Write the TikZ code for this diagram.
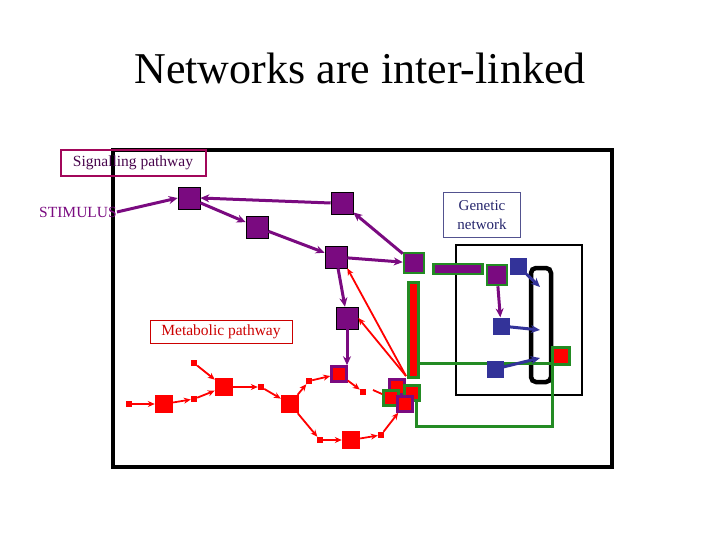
\documentclass[tikz,border=0pt]{standalone}
\usepackage{fontspec}
\setmainfont{Liberation Serif}
\usetikzlibrary{arrows.meta}
\definecolor{pur}{HTML}{7A0A80}
\definecolor{blu}{HTML}{333399}
\definecolor{grn}{HTML}{238B23}
\definecolor{rd}{HTML}{FF0000}
\begin{document}
\begin{tikzpicture}[x=1pt,y=-1pt,
 psq/.style={draw=black,fill=pur,minimum size=22pt,inner sep=0pt,line width=0.6pt},
 gpsq/.style={draw=grn,fill=pur,minimum size=20pt,inner sep=0pt,line width=2.5pt},
 bsq/.style={fill=blu,minimum size=17pt,inner sep=0pt},
 rbig/.style={fill=rd,minimum size=18pt,inner sep=0pt},
 rsm/.style={fill=rd,minimum size=6pt,inner sep=0pt},
 prsq/.style={draw=pur,fill=rd,minimum size=15pt,inner sep=0pt,line width=2.5pt},
 grsq/.style={draw=grn,fill=rd,minimum size=15pt,inner sep=0pt,line width=2.5pt},
 pa/.style={pur,line width=3pt,-{Stealth[length=9pt,width=8pt]}},
 ba/.style={blu,line width=3pt,-{Stealth[length=9pt,width=8pt]}},
 ra/.style={rd,line width=1.8pt,-{Stealth[length=7pt,width=6pt]}},
 lbl/.style={font=\fontsize{15.5}{17}\selectfont,inner sep=2pt}]
\useasboundingbox (0,0) rectangle (720,540);
\node at (360,68) {\fontsize{44}{48}\selectfont Networks are inter-linked};
\draw[line width=4pt] (113,150) rectangle (612,467);
\draw[line width=2pt] (456,245) rectangle (582,395);
\draw[line width=4.5pt,rounded corners=5pt] (531,268) rectangle (551,382);
% labels
\node[lbl,draw=pur!70!rd,line width=2pt,text=pur!60!black,minimum width=145pt,minimum height=26pt] (sig) at (133,163) {Signalling pathway};
\node[lbl,text=pur,inner sep=0pt] (stim) at (78,212) {STIMULUS};
\node[lbl,draw=blu!60!gray,line width=1pt,text=blu!70!black,align=center,font=\fontsize{15}{19}\selectfont,minimum width=77pt,minimum height=44pt] (gen) at (482,215) {Genetic\\network};
\node[lbl,draw=rd!80!black,line width=1pt,text=rd!80!black,minimum height=23pt,minimum width=142pt] (met) at (221,332) {Metabolic pathway};
% green wiring
\node[draw=grn,fill=rd,line width=3pt,minimum width=10pt,minimum height=95pt,inner sep=0pt] (bar) at (413,330) {};
\draw[grn,line width=3pt] (bar.east |- 0,363) -- (553,363);
\draw[grn,line width=3pt] (552,365) -- (552,426) -- (416,426) -- (416,400);
% purple
\node[psq] (A) at (189,198) {};
\node[psq] (B) at (342,203) {};
\node[psq] (C) at (257,227) {};
\node[psq] (D) at (336,257) {};
\node[psq] (E) at (347,318) {};
\node[gpsq] (F) at (414,263) {};
\node[draw=grn,fill=pur,line width=2.5pt,minimum width=49pt,minimum height=10pt,inner sep=0pt] (pbar) at (458,269) {};
\node[gpsq] (G) at (497,275) {};
\node[bsq] (b1) at (518,266) {};
\node[bsq] (b2) at (501,326) {};
\node[bsq] (b3) at (495,369) {};
\node[grsq,minimum size=17pt] (rg) at (561,356) {};
\coordinate (t1) at (540,287);
\coordinate (t2) at (540,330);
\coordinate (t3) at (540,358);
\draw[ba] (b1) -- (t1);
\draw[ba] (b2) -- (t2);
\draw[ba] (b3) -- (t3);
\draw[pa] (stim.east) -- (A.west);
\draw[pa] (B.west) -- (A.east);
\draw[pa] (A) -- (C);
\draw[pa] (C) -- (D);
\draw[pa] (D) -- (F);
\draw[pa] (F) -- (B);
\draw[pa] (D) -- (E);
\draw[pa] (G) -- (b2);
% red metabolic
\node[rsm] (r1) at (129,404) {};
\node[rbig] (R1) at (164,404) {};
\node[rsm] (r2) at (194,399) {};
\node[rsm] (r3) at (194,363) {};
\node[rbig] (R2) at (224,387) {};
\node[rsm] (r4) at (261,387) {};
\node[rbig] (R3) at (290,404) {};
\node[rsm] (r5) at (309,381) {};
\node[prsq] (P1) at (339,374) {};
\node[rsm] (r6) at (363,392) {};
\node[rsm] (r7) at (320,440) {};
\node[rbig] (R4) at (351,440) {};
\node[rsm] (r8) at (381,435) {};
\node[prsq] (c1) at (397,387) {};
\node[grsq] (c2) at (391,398) {};
\node[grsq] (c3) at (412,393) {};
\node[prsq] (c4) at (405,404) {};
\draw[pur,line width=3pt,-{Stealth[length=9pt,width=8pt]}] (E) -- (E|-P1.north);
\draw[ra] (r1) -- (R1);
\draw[ra] (R1) -- (r2);
\draw[ra] (r2) -- (R2);
\draw[ra] (r3) -- (R2);
\draw[ra] (R2) -- (r4);
\draw[ra] (r4) -- (R3);
\draw[ra] (R3) -- (r5);
\draw[ra] (r5) -- (P1);
\draw[ra] (P1) -- (r6);
\draw[ra] (R3) -- (r7);
\draw[ra] (r7) -- (R4);
\draw[ra] (R4) -- (r8);
\draw[ra] (r8) -- (c4);
\coordinate (rs) at (373,390);
\draw[rd,line width=1.8pt] (rs) -- (c2);
\coordinate (ro) at (406,376);
\draw[ra] (ro) -- (D.south east);
\draw[ra] (ro) -- (E.east);
\end{tikzpicture}
\end{document}
